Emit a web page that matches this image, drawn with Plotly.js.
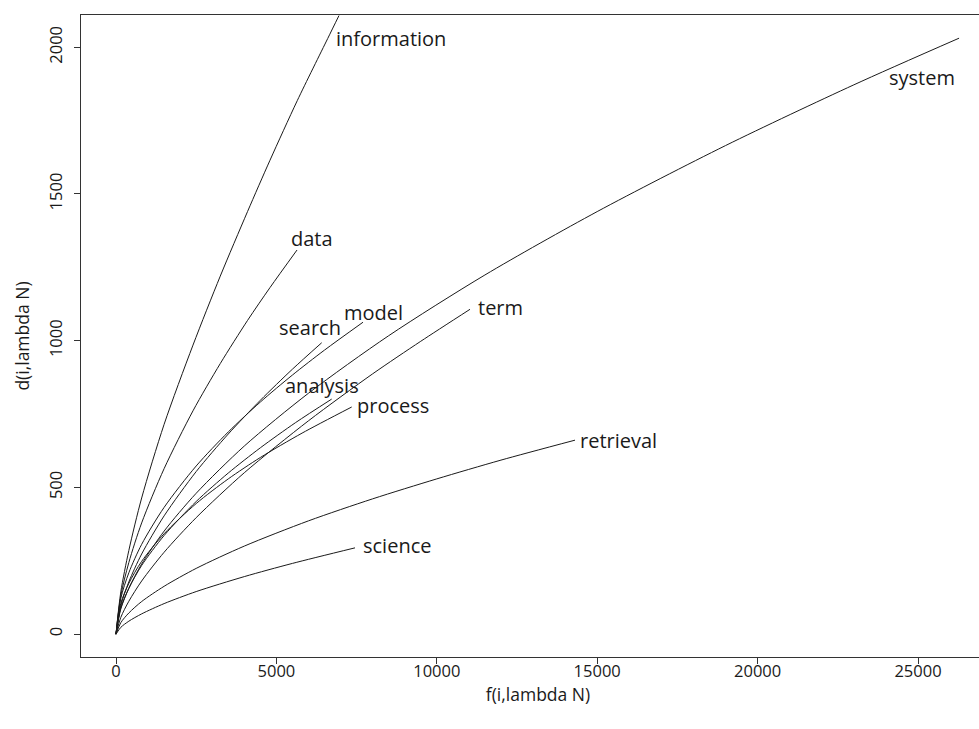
<!DOCTYPE html>
<html>
<head>
<meta charset="utf-8">
<script src="https://cdn.plot.ly/plotly-3.0.1.min.js"></script>
<style>
html,body{margin:0;padding:0;overflow:hidden;background:#fff;}
#chart{width:1000px;height:729px;}
</style>
</head>
<body>
<div id="chart"></div>
<script>
// ---- data ----
const terms = ['information','data','search','model','system','term','analysis','process','retrieval','science'];

const fInformation = [0,150,400,800,1500,2400,3250,4100,4800,5650,6600,6950];
const dInformation = [0,144,285,464,715,985,1220,1440,1615,1818,2030,2108];

const fData = [0,150,400,800,1500,2400,3250,4100,4800,5642];
const dData = [0,131,244,379,564,761,922,1069,1181,1309];

const fSearch = [0,150,400,800,1500,2500,3500,4500,5500,6412];
const dSearch = [0,97,178,273,403,554,682,797,903,993];

const fModel = [0,150,400,800,1500,2500,3500,4500,5500,6500,7700];
const dModel = [0,122,209,306,432,573,689,791,883,968,1063];

const fSystem = [0,150,400,800,1500,2500,4000,6000,8500,11500,15000,19000,23000,26280];
const dSystem = [0,86,156,239,351,480,641,821,1017,1224,1440,1665,1872,2031];

const fTerm = [0,150,400,800,1500,2500,4000,6000,8000,9500,11035];
const dTerm = [0,57,112,181,279,397,550,727,887,998,1107];

const fAnalysis = [0,150,400,800,1500,2500,3500,4500,5600,6723];
const dAnalysis = [0,89,156,234,336,452,549,635,721,801];

const fProcess = [0,150,400,800,1500,2500,3500,4500,5800,7347];
const dProcess = [0,105,173,248,342,445,529,602,685,774];

const fRetrieval = [0,150,400,800,1500,2500,4000,6000,8000,10000,12000,14308];
const dRetrieval = [0,39,72,111,163,224,300,386,461,529,593,661];

const fScience = [0,150,400,800,1500,2500,4000,5500,7450];
const dScience = [0,23,44,69,104,145,196,241,294];

const xTicks = [0,5000,10000,15000,20000,25000];
const yTicks = [0,500,1000,1500,2000];

// ---- styling (pixel offsets of labels relative to curve end) ----
const series = [
  [fInformation,dInformation],[fData,dData],[fSearch,dSearch],[fModel,dModel],
  [fSystem,dSystem],[fTerm,dTerm],[fAnalysis,dAnalysis],[fProcess,dProcess],
  [fRetrieval,dRetrieval],[fScience,dScience]
];
const labelShift = {
  information:[52,-23], data:[15,12], search:[-12,15], model:[10,10],
  system:[-37,-39], term:[30,2], analysis:[-10,14], process:[41,2],
  retrieval:[43,0], science:[42,2]
};

const FONT = 'Open Sans, Noto Sans, sans-serif';
const INK = '#1a1a1a';

const traces = series.map((s,i)=>({
  x:s[0], y:s[1], type:'scatter', mode:'lines', name:terms[i],
  line:{color:INK,width:1,shape:'spline',smoothing:0.8},
  hoverinfo:'skip', showlegend:false
}));

const annotations = series.map((s,i)=>{
  const n = s[0].length-1;
  const sh = labelShift[terms[i]];
  return {
    x:s[0][n], y:s[1][n], xref:'x', yref:'y', text:terms[i], showarrow:false,
    xanchor:'center', yanchor:'middle', xshift:sh[0], yshift:sh[1],
    font:{family:FONT,size:20,color:INK}
  };
});

const layout = {
  width:1000, height:729,
  margin:{l:81,r:5,t:15,b:72},
  paper_bgcolor:'#fff', plot_bgcolor:'#fff',
  font:{family:FONT,color:INK,size:16.5},
  xaxis:{
    range:[-1091,27400], tickvals:xTicks, ticktext:xTicks.map(String),
    showgrid:false, zeroline:false, showline:true, linecolor:'#333', linewidth:1,
    mirror:true, ticks:'outside', ticklen:6, tickcolor:'#333',
    ticklabelstandoff:-7,
    tickfont:{family:FONT,size:16.5,color:INK},
    title:{text:'f(i,lambda N)',font:{family:FONT,size:17.5,color:INK},standoff:0}
  },
  yaxis:{
    range:[-78,2110], tickvals:yTicks, ticktext:yTicks.map(String),
    showgrid:false, zeroline:false, showline:true, linecolor:'#333', linewidth:1,
    ticks:'outside', ticklen:6, tickcolor:'#333', tickangle:-90,
    ticklabelstandoff:5,
    tickfont:{family:FONT,size:16.5,color:INK},
    title:{text:'d(i,lambda N)',font:{family:FONT,size:17.5,color:INK},standoff:10}
  },
  annotations:annotations
};

Plotly.newPlot('chart',traces,layout,{staticPlot:true,displayModeBar:false});
</script>
</body>
</html>
